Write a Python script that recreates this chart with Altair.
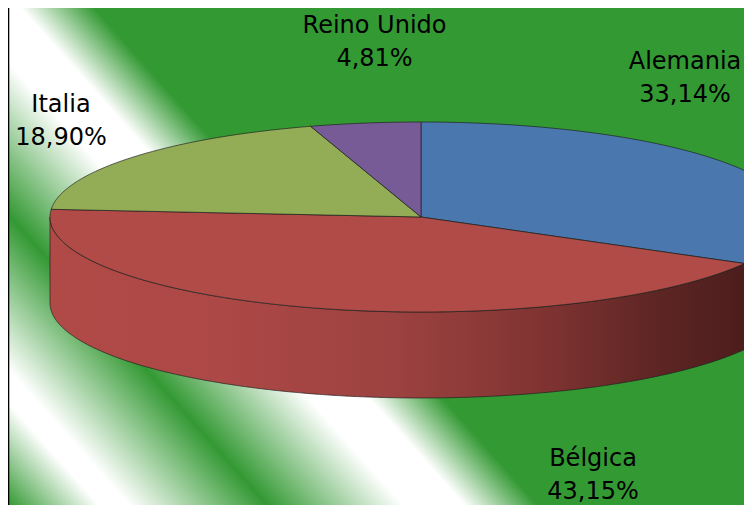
import numpy as np
import pandas as pd
import altair as alt

# ---------------- data ----------------
countries = ["Alemania", "Bélgica", "Italia", "Reino Unido"]
shares = [33.14, 43.15, 18.90, 4.81]          # percent
top_colors = ["#4a78ae", "#b04b48", "#93ac56", "#775b97"]

# ---------------- layout / style ----------------
W, H = 736, 497                 # plot area (px) - must fit the 752x517 window
PX = 371.0                      # pie radius in px
CX, CY = 421.0, 217.0           # pie centre on page (px)
X0, Y0 = 8.0, 8.0               # page offset of plot area
TILT = 95.0 / 371.0             # vertical squash of the pie
DEPTH = 86.0 / 371.0            # thickness of the pie
x_dom = [(X0 - CX) / PX, (X0 + W - CX) / PX]
y_dom = [(CY - (Y0 + H)) / PX, (CY - Y0) / PX]

# label anchors (pie units, relative to centre) - manual placement like the original
label_pos = {
    "Alemania": (0.7116, 0.3989),
    "Bélgica": (0.4636, -0.6712),
    "Italia": (-0.9704, 0.2830),
    "Reino Unido": (-0.1253, 0.4960),
}

xs = alt.Scale(domain=x_dom, nice=False, zero=False)
ys = alt.Scale(domain=y_dom, nice=False, zero=False)

# ---------------- geometry from the data ----------------
ends = np.cumsum(shares) * 3.6
starts = ends - np.array(shares) * 3.6


def arc(a0, a1, drop=0.0):
    n = max(2, int(abs(a1 - a0) / 0.5) + 1)
    t = np.radians(np.linspace(a0, a1, n))
    return list(zip(np.sin(t), TILT * np.cos(t) - drop))


def poly_df(pts):
    return pd.DataFrame({"u": [p[0] for p in pts],
                         "v": [p[1] for p in pts],
                         "i": list(range(len(pts)))})


enc = dict(
    x=alt.X("u:Q", scale=xs, axis=None),
    y=alt.Y("v:Q", scale=ys, axis=None),
    order=alt.Order("i:Q"),
)

side_fills = {
    "Alemania": "#26384f",
    "Bélgica": alt.LinearGradient(
        gradient="linear", x1=0, y1=0, x2=1, y2=0,
        stops=[
            alt.GradientStop(color="#b04a47", offset=0.0),
            alt.GradientStop(color="#ac4846", offset=0.25),
            alt.GradientStop(color="#9c4240", offset=0.5),
            alt.GradientStop(color="#7e3331", offset=0.72),
            alt.GradientStop(color="#5e2624", offset=0.87),
            alt.GradientStop(color="#4c1d1d", offset=1.0),
        ],
    ),
}

layers = []

# background: diagonal green / white bands
d = np.array([0.666, 0.746]); d = d / np.linalg.norm(d)
n_pix = np.array([-d[1], d[0]])
def s_of(x, y):
    return n_pix[0] * x + n_pix[1] * y
s1 = s_of(X0 + W, Y0)       # top-right corner
s2 = s_of(X0, Y0 + H)       # bottom-left corner
g = np.array([-d[1] / H, d[0] / W]); g = g / np.linalg.norm(g)
p1 = np.array([1.0, 0.0])
L = float(np.dot(np.array([0.0, 1.0]) - p1, g))
p2 = p1 + L * g
GREEN, WHITE = "#339933", "#ffffff"
band_stops = [(s1, GREEN), (-65, GREEN), (-10, WHITE), (35, WHITE), (137, GREEN),
              (240, WHITE), (262, WHITE), (334, GREEN), (s2, GREEN)]
bg_grad = alt.LinearGradient(
    gradient="linear", x1=float(p1[0]), y1=float(p1[1]), x2=float(p2[0]), y2=float(p2[1]),
    stops=[alt.GradientStop(color=c, offset=float(min(1, max(0, (s - s1) / (s2 - s1)))))
           for s, c in band_stops],
)
bg = alt.Chart(alt.Data(values=[{}])).mark_rect(fill=bg_grad).encode(
    x=alt.value(0), x2=alt.value(W), y=alt.value(0), y2=alt.value(H)
)
layers.append(bg)

border = alt.Chart(alt.Data(values=[{}])).mark_rule(color="#000000", strokeWidth=1.4).encode(
    x=alt.value(0.6), y=alt.value(0), y2=alt.value(H)
)
layers.append(border)

# side walls (front half only)
for name, a0, a1 in zip(countries, starts, ends):
    lo, hi = max(a0, 90.0), min(a1, 270.0)
    if lo >= hi:
        continue
    pts = arc(lo, hi) + arc(hi, lo, DEPTH)
    pts.append(pts[0])
    layers.append(
        alt.Chart(poly_df(pts)).mark_line(
            fill=side_fills[name], stroke="#1e1e1e", strokeWidth=0.8,
            strokeOpacity=0.85, clip=True
        ).encode(**enc)
    )

# top faces
for name, a0, a1, col in zip(countries, starts, ends, top_colors):
    pts = [(0.0, 0.0)] + arc(a0, a1) + [(0.0, 0.0)]
    layers.append(
        alt.Chart(poly_df(pts)).mark_line(
            fill=col, stroke="#1e1e1e", strokeWidth=0.8, strokeOpacity=0.85, clip=True
        ).encode(**enc)
    )

# labels
lab = pd.DataFrame({
    "name": countries,
    "text": [f"{c}\n{s:.2f}".replace(".", ",") + "%" for c, s in zip(countries, shares)],
    "u": [label_pos[c][0] for c in countries],
    "v": [label_pos[c][1] for c in countries],
})
labels = alt.Chart(lab).mark_text(
    font="DejaVu Sans", fontSize=24, lineBreak="\n", lineHeight=33,
    align="center", baseline="alphabetic", color="#000000"
).encode(
    x=alt.X("u:Q", scale=xs, axis=None),
    y=alt.Y("v:Q", scale=ys, axis=None),
    text="text:N",
)
layers.append(labels)

chart = alt.layer(*layers).properties(
    width=W, height=H, padding=0, autosize=alt.AutoSizeParams(type="none")
).configure_view(stroke=None)

chart.save("out.html", embed_options={"renderer": "svg", "actions": False})
